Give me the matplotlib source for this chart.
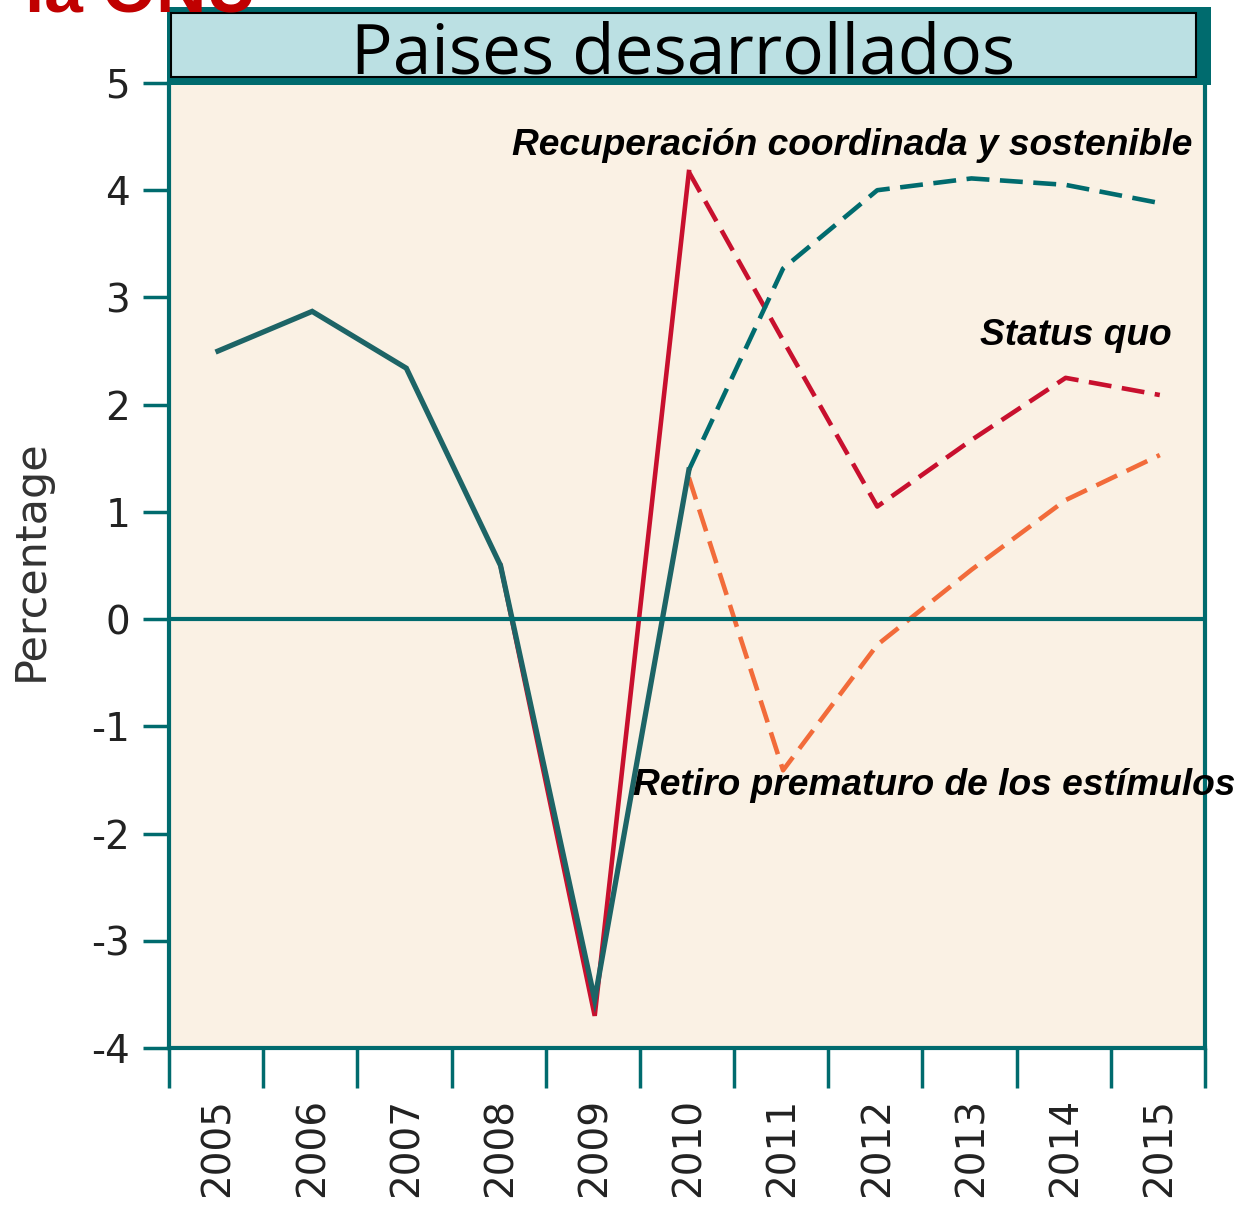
import matplotlib.pyplot as plt
from matplotlib.patches import Rectangle

# Data (percent)
years = [2005, 2006, 2007, 2008, 2009, 2010, 2011, 2012, 2013, 2014, 2015]
hist_years = [2005, 2006, 2007, 2008, 2009, 2010]
history = [2.5, 2.87, 2.34, 0.5, -3.55, 1.39]

proj_years = [2010, 2011, 2012, 2013, 2014, 2015]
coordinated = [1.39, 3.27, 4.0, 4.11, 4.05, 3.88]
status_quo = [4.17, 2.6, 1.05, 1.67, 2.25, 2.09]
premature = [1.32, -1.41, -0.24, 0.46, 1.11, 1.53]

sq_solid_years = [2008, 2009, 2010]
sq_solid = [0.5, -3.7, 4.17]

y_ticks = [5, 4, 3, 2, 1, 0, -1, -2, -3, -4]

TEAL = "#006B6E"
RED = "#C8102E"
ORANGE = "#F26B3A"
BG = "#FAF1E4"
BOX = "#BBE0E3"

W, H = 1239, 1209
fig = plt.figure(figsize=(W / 100, H / 100), dpi=100)


def px(x, y):
    # pixel position (from top left) -> figure fraction
    return x / W, 1 - y / H


ax = fig.add_axes([169 / W, 1 - 1048 / H, 1036 / W, 965 / H])
ax.set_facecolor(BG)

dash = (5, 2.3)
ax.plot(sq_solid_years, sq_solid, color=RED, lw=3.3, solid_joinstyle="miter")
ax.plot(proj_years, premature, color=ORANGE, lw=3.3, dashes=dash)
ax.plot(proj_years, status_quo, color=RED, lw=3.3, dashes=dash)
ax.plot(proj_years, coordinated, color=TEAL, lw=3.3, dashes=dash)
ax.plot(hist_years, history, color="#1D6466", lw=3.8, solid_joinstyle="miter")
ax.axhline(0, color=TEAL, lw=3)

ax.set_xlim(2004.48, 2015.48)
ax.set_ylim(-4, 5)

ax.set_yticks(y_ticks)
ax.set_yticklabels([str(v) for v in y_ticks], fontsize=28, color="#222222")
ax.tick_params(axis="y", length=19, width=2.5, color=TEAL, pad=9)

ax.set_xticks([y - 0.52 for y in years + [2016]])
ax.set_xticklabels([])
ax.tick_params(axis="x", which="major", length=29, width=2.5, color=TEAL)
ax.set_xticks(years, minor=True)
ax.set_xticklabels([str(y) for y in years], minor=True, rotation=90,
                   fontsize=28, color="#222222")
ax.tick_params(axis="x", which="minor", length=0, pad=36)

for side in ["left", "bottom", "right"]:
    ax.spines[side].set_color(TEAL)
    ax.spines[side].set_linewidth(3)
ax.spines["top"].set_visible(False)

ax.set_ylabel("Percentage", fontsize=31, color="#333333", va="center")
ax.yaxis.set_label_coords(-0.133, 0.506)

# annotations
font = dict(fontsize=26.7, fontweight="bold", fontstyle="italic",
            family="Liberation Sans", color="black", va="baseline")
ax.text(2015.35, 4.33, "Recuperación coordinada y sostenible", ha="right", **font)
ax.text(2015.13, 2.56, "Status quo", ha="right", **font)
ax.text(2009.41, -1.64, "Retiro prematuro de los estímulos", ha="left", **font)

# title box
x0, y0 = px(167, 85)
x1, y1 = px(1211, 7)
fig.patches.append(Rectangle((x0, y0), x1 - x0, y1 - y0, transform=fig.transFigure,
                             facecolor=TEAL, edgecolor="none"))
x0, y0 = px(171, 77)
x1, y1 = px(1196, 13)
fig.patches.append(Rectangle((x0, y0), x1 - x0, y1 - y0, transform=fig.transFigure,
                             facecolor=BOX, edgecolor="black", linewidth=1.5))
tx, ty = px(683, 73)
fig.text(tx, ty, "Paises desarrollados", ha="center", va="baseline",
         fontsize=50, family="Open Sans", color="black")

# cut off header from the slide
hx, hy = px(25, 11)
fig.text(hx, hy, "la ONU", ha="left", va="baseline", fontsize=50,
         fontweight="bold", family="Liberation Sans", color="#C00000")

fig.savefig("out.png", dpi=100)
